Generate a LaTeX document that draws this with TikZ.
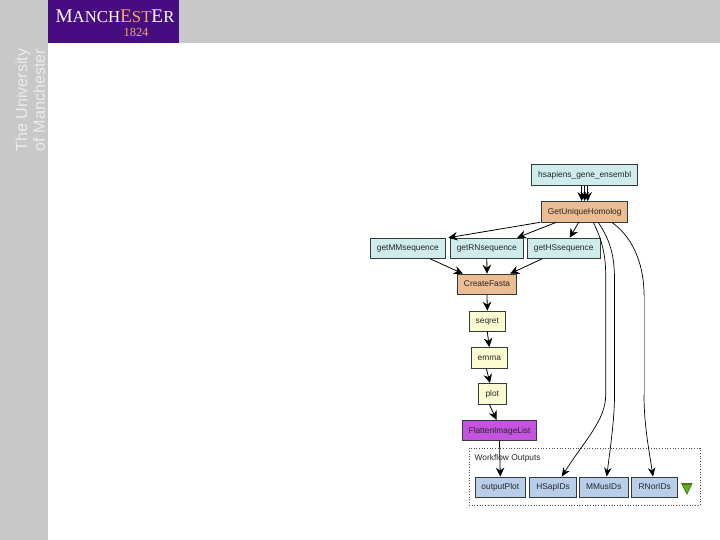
\documentclass[tikz,border=0pt]{standalone}
\usepackage{fontspec}
\usetikzlibrary{arrows.meta}
\setmainfont{Liberation Sans}
\newfontfamily\logofont{Liberation Serif}
\definecolor{MANpurple}{RGB}{70, 12, 128}
\definecolor{MANgold}{RGB}{240, 170, 90}
\definecolor{MANgray}{RGB}{200, 200, 200}
\definecolor{MANtext}{RGB}{236, 236, 236}
\definecolor{WFcyan}{RGB}{207, 236, 236}
\definecolor{WForange}{RGB}{236, 188, 146}
\definecolor{WFyellow}{RGB}{252, 252, 210}
\definecolor{WFmagenta}{RGB}{196, 84, 224}
\definecolor{WFblue}{RGB}{184, 206, 234}
\definecolor{WFedge}{RGB}{50, 60, 60}
\definecolor{WFgreen}{RGB}{100, 170, 30}
\tikzset{
    wfbox/.style={draw=WFedge,line width=0.8pt,minimum height=20.4bp,inner sep=0pt,text height=6.4bp,text depth=1.2bp,text=black!85,font=\fontsize{8.4}{10}\selectfont},
    wfarrow/.style={-{Stealth[length=9bp,width=8.5bp]},line width=0.8pt,black},
    wfcurve/.style={-{Stealth[length=9bp,width=7.5bp]},line width=0.7pt,black},
    wfplain/.style={line width=0.7pt,black}
}

\begin{document}
\begin{tikzpicture}[x=1bp,y=-1bp]
    \useasboundingbox (0,0) rectangle (720,540);
    % slide frame
    \fill[MANgray] (0,0) rectangle (720,43);
    \fill[MANgray] (0,0) rectangle (48,540);
    \fill[MANpurple] (48,0) rectangle (179,43);
    \node[white,inner sep=0pt,text height=9bp,text depth=0pt,font=\logofont\fontsize{19.4}{20}\selectfont] (logoname) at (115,18)
        {M{\fontsize{16.8}{17}\selectfont ANCH}\textcolor{MANgold}{E{\fontsize{16.8}{17}\selectfont ST}}E{\fontsize{16.8}{17}\selectfont R}};
    \node[MANgold,inner sep=0pt,text height=8bp,text depth=0pt,font=\logofont\fontsize{12.5}{13}\selectfont] (logoyear) at (136,32.5) {1824};
    \node[MANtext,rotate=90,inner sep=0pt,font=\fontsize{16.2}{17}\selectfont] (logouni) at (23,100) {The University};
    \node[MANtext,rotate=90,inner sep=0pt,font=\fontsize{16.2}{17}\selectfont] (logoman) at (39,100) {of Manchester};
    % workflow nodes
    \node[wfbox,fill=WFcyan,minimum width=106bp] (hsapiens) at (584.7,175) {hsapiens\_gene\_ensembl};
    \node[wfbox,fill=WForange,minimum width=86bp] (homolog) at (584.7,211.7) {GetUniqueHomolog};
    \node[wfbox,fill=WFcyan,minimum width=74.3bp] (getmm) at (407.8,248.3) {getMMsequence};
    \node[wfbox,fill=WFcyan,minimum width=73bp] (getrn) at (486.8,248.3) {getRNsequence};
    \node[wfbox,fill=WFcyan,minimum width=72.7bp] (geths) at (563.7,248.3) {getHSsequence};
    \node[wfbox,fill=WForange,minimum width=59.4bp] (fasta) at (487,284.3) {CreateFasta};
    \node[wfbox,fill=WFyellow,minimum width=36bp] (seqret) at (487.3,321.3) {seqret};
    \node[wfbox,fill=WFyellow,minimum width=36bp] (emma) at (489.3,357.7) {emma};
    \node[wfbox,fill=WFyellow,minimum width=27.3bp] (plot) at (492.3,393.7) {plot};
    \node[wfbox,fill=WFmagenta,minimum width=74.4bp] (flatten) at (499.5,430.5) {FlattenImageList};
    % outputs
    \node[draw=black!70,dotted,line width=0.7pt,minimum width=231bp,minimum height=57bp,inner sep=0pt] (outputs) at (584.5,476.5) {};
    \node[anchor=west,inner sep=0pt,text=black!85,font=\fontsize{8.4}{10}\selectfont] (outlabel) at (474.5,458.5) {Workflow Outputs};
    \node[wfbox,fill=WFblue,minimum width=50.7bp] (outplot) at (500.3,487.2) {outputPlot};
    \node[wfbox,fill=WFblue,minimum width=47.4bp] (hsap) at (553,487.2) {HSapIDs};
    \node[wfbox,fill=WFblue,minimum width=49bp] (mmus) at (603.8,487.2) {MMusIDs};
    \node[wfbox,fill=WFblue,minimum width=46bp] (rnor) at (654.7,487.2) {RNorIDs};
    \fill[WFgreen!70!black] (681,483) -- (692.7,483) -- (686.9,495) -- cycle;
    \fill[WFgreen] (682.6,484.8) -- (691.2,484.8) -- (686.9,493) -- cycle;
    % connectors
    \foreach \s in {-3,0,3}
        {\draw[wfarrow] ([xshift=\s bp]hsapiens.south) -- ([xshift=\s bp]homolog.north);}
    \draw[wfarrow] ([xshift=-1bp]homolog.south west) -- ([xshift=3bp]getmm.north east);
    \draw[wfarrow] ([xshift=15bp]homolog.south west) -- ([xshift=-6.5bp]getrn.north east);
    \draw[wfarrow] ([xshift=-6bp]homolog.south) -- ([xshift=6bp]geths.north);
    \draw[wfarrow] ([xshift=-15bp]getmm.south east) -- ([xshift=6bp]fasta.north west);
    \draw[wfarrow] (getrn.south) -- (fasta.north);
    \draw[wfarrow] ([xshift=15bp]geths.south west) -- ([xshift=-7bp]fasta.north east);
    \draw[wfarrow] (fasta.south) -- (seqret.north);
    \draw[wfarrow] (seqret.south) -- (emma.north);
    \draw[wfarrow] ([xshift=-3bp]emma.south) -- (plot.north -| 490,0);
    \draw[wfarrow] ([xshift=-3bp]plot.south) -- (flatten.north -| 496.5,0);
    \draw[wfarrow] (flatten.south) -- (outplot.north);
    \draw[wfcurve] ([xshift=8.6bp]homolog.south) .. controls (602,240) and (605.7,255) .. (605.7,275) -- (605.7,395) .. controls (605.7,420) and (585,440) .. (hsap.north -| 561.7,0);
    \draw[wfcurve] ([xshift=13.5bp]homolog.south) .. controls (610,240) and (614.5,255) .. (614.5,280) -- (614.5,395) .. controls (614.5,420) and (610,450) .. (mmus.north -| 606.7,0);
    \coordinate (rnortop) at (644,295);
    \coordinate (rnorlow) at (644,395);
    \draw[wfplain] ([xshift=27bp]homolog.south) .. controls (630,235) and (644,260) .. (rnortop);
    \draw[wfplain,black!40] (rnortop) -- (rnorlow);
    \draw[wfcurve] (rnorlow) .. controls (644,425) and (649,450) .. (rnor.north -| 653,0);
\end{tikzpicture}
\end{document}
